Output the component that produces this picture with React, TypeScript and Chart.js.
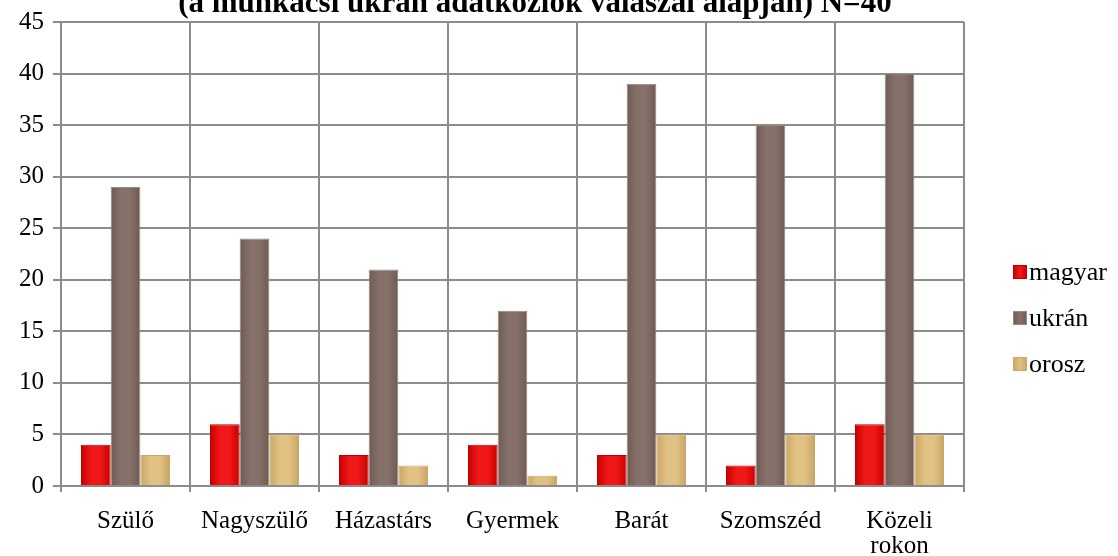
import React, { useEffect, useRef } from "react";
import { Chart, registerables } from "chart.js";

Chart.register(...registerables);

const titleText = "(a munkácsi ukrán adatközlők válaszai alapján) N=40";
const categories: (string | string[])[] = [
  "Szülő",
  "Nagyszülő",
  "Házastárs",
  "Gyermek",
  "Barát",
  "Szomszéd",
  ["Közeli", "rokon"],
];
const seriesNames = ["magyar", "ukrán", "orosz"];
const magyar = [4, 6, 3, 4, 3, 2, 6];
const ukran = [29, 24, 21, 17, 39, 35, 40];
const orosz = [3, 5, 2, 1, 5, 5, 5];
const yTicks = [0, 5, 10, 15, 20, 25, 30, 35, 40, 45];

const palettes = [
  { edge: "#c80000", mid: "#f01818", border: "#c00000" },
  { edge: "#6e5b53", mid: "#85716a", border: "#9a8880" },
  { edge: "#caa564", mid: "#e2c283", border: "#c9a66a" },
];

const FONT = "'Liberation Serif', 'Times New Roman', serif";
const CAT_PCT = 0.69;

function gradFor(idx: number) {
  return (ctx: any) => {
    const chart = ctx.chart;
    const p = palettes[idx];
    const xs = chart.scales && chart.scales.x;
    if (!xs || ctx.dataIndex == null || !chart.ctx) return p.mid;
    const center = xs.getPixelForValue(ctx.dataIndex);
    const catW = xs.width / categories.length;
    const bw = (catW * CAT_PCT) / 3;
    const cx = center + (idx - 1) * bw;
    const x0 = cx - bw / 2;
    const x1 = cx + bw / 2;
    if (!isFinite(x0) || !isFinite(x1) || x1 <= x0) return p.mid;
    const g = chart.ctx.createLinearGradient(x0, 0, x1, 0);
    g.addColorStop(0, p.edge);
    g.addColorStop(0.35, p.mid);
    g.addColorStop(0.65, p.mid);
    g.addColorStop(1, p.edge);
    return g;
  };
}

const overlayPlugin = {
  id: "overlay",
  afterDraw(chart: any) {
    const ctx = chart.ctx;
    ctx.save();
    ctx.font = `bold 31px ${FONT}`;
    ctx.fillStyle = "#000";
    ctx.textAlign = "center";
    ctx.textBaseline = "alphabetic";
    ctx.fillText(titleText, 535, 12);
    const ys = [272, 318, 364];
    seriesNames.forEach((name, i) => {
      const p = palettes[i];
      const y = ys[i];
      const g = ctx.createLinearGradient(1013, 0, 1027, 0);
      g.addColorStop(0, p.edge);
      g.addColorStop(0.5, p.mid);
      g.addColorStop(1, p.edge);
      ctx.fillStyle = g;
      ctx.fillRect(1013, y - 7, 14, 14);
      ctx.strokeStyle = p.border;
      ctx.lineWidth = 1;
      ctx.strokeRect(1013.5, y - 6.5, 13, 13);
      ctx.fillStyle = "#000";
      ctx.font = `26px ${FONT}`;
      ctx.textAlign = "left";
      ctx.textBaseline = "middle";
      ctx.fillText(name, 1029, y + 1);
    });
    ctx.restore();
  },
};

export default function App() {
  const ref = useRef<HTMLCanvasElement | null>(null);
  useEffect(() => {
    if (!ref.current) return;
    const datasets = [magyar, ukran, orosz].map((d, i) => ({
      label: seriesNames[i],
      data: d,
      backgroundColor: gradFor(i),
      borderColor: palettes[i].border,
      borderWidth: 1,
      categoryPercentage: CAT_PCT,
      barPercentage: 1.0,
    }));
    const chart = new Chart(ref.current, {
      type: "bar",
      data: { labels: categories, datasets },
      options: {
        animation: false,
        responsive: false,
        maintainAspectRatio: false,
        layout: { padding: { top: 22, right: 154, left: 0, bottom: 0 } },
        plugins: {
          legend: { display: false },
          title: { display: false },
          tooltip: { enabled: false },
        },
        scales: {
          x: {
            grid: {
              color: "#8c8c8c",
              lineWidth: 2,
              offset: true,
              tickLength: 6,
              drawOnChartArea: true,
            },
            border: { color: "#8c8c8c", width: 2 },
            ticks: {
              color: "#000",
              font: { family: FONT, size: 25, lineHeight: 1.0 },
              padding: 17,
              maxRotation: 0,
              autoSkip: false,
            },
            afterFit(scale: any) {
              scale.height = 70;
            },
          },
          y: {
            min: 0,
            max: 45,
            afterBuildTicks(scale: any) {
              scale.ticks = yTicks.map((v) => ({ value: v }));
            },
            grid: { color: "#8c8c8c", lineWidth: 2, tickLength: 8 },
            border: { color: "#8c8c8c", width: 2 },
            ticks: {
              color: "#000",
              font: { family: FONT, size: 25, lineHeight: 1.0 },
              padding: 9,
            },
            afterFit(scale: any) {
              scale.width = 61;
            },
          },
        },
      },
      plugins: [overlayPlugin],
    });
    return () => chart.destroy();
  }, []);
  return (
    <div style={{ position: "absolute", left: 0, top: 0, width: 1118, height: 556, background: "#fff" }}>
      <canvas ref={ref} width={1118} height={556} style={{ display: "block" }} />
    </div>
  );
}
